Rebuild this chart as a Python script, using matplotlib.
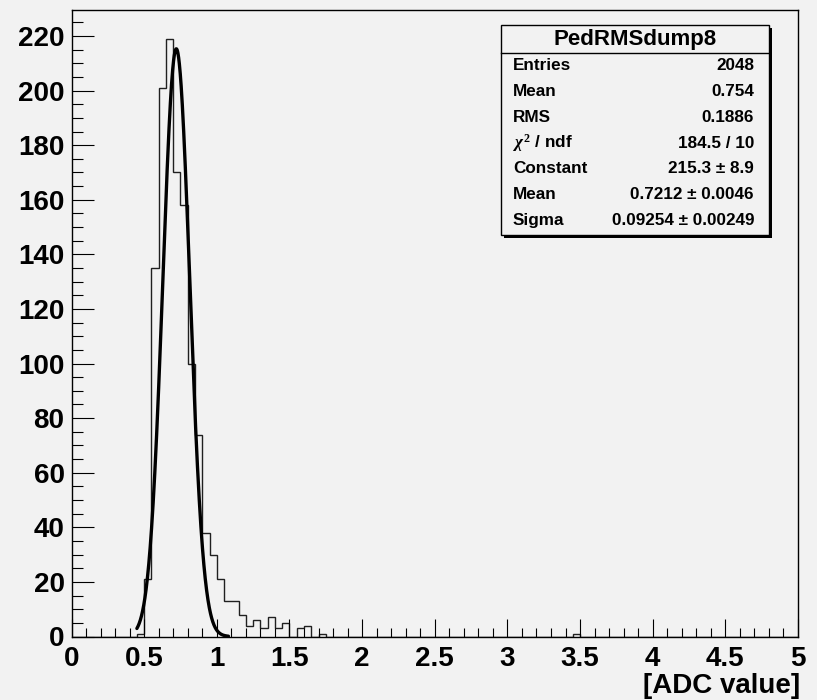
import numpy as np
import matplotlib
matplotlib.use("Agg")
import matplotlib.pyplot as plt
from matplotlib.patches import Rectangle
from matplotlib.lines import Line2D

# ---- data ----
bin_width = 0.05
x_min, x_max = 0.0, 5.0
# contiguous bins starting at 0.45
peak_start = 0.45
peak_counts = [1, 21, 135, 201, 219, 170, 158, 100, 74, 38, 30, 21, 13, 13,
               8, 4, 6, 3, 7, 3, 5, 0, 3, 4, 0, 1]
# isolated bins
extra_bins = [3.45]
extra_counts = [1]

# fit parameters (from stats box)
fit_const = 215.3
fit_mean = 0.7212
fit_sigma = 0.09254
fit_range = (0.45, 1.08)

stats_title = "PedRMSdump8"
stats_labels = ["Entries", "Mean", "RMS", r"$\chi^{2}$ / ndf", "Constant", "Mean", "Sigma"]
stats_values = ["2048", "0.754", "0.1886", "184.5 / 10", "215.3 ± 8.9",
                "0.7212 ± 0.0046", "0.09254 ± 0.00249"]

x_ticks = [0, 0.5, 1, 1.5, 2, 2.5, 3, 3.5, 4, 4.5, 5]
y_ticks = list(range(0, 221, 20))
x_label = "[ADC value]"

# ---- build histogram ----
nbins = int(round((x_max - x_min) / bin_width))
edges = np.linspace(x_min, x_max, nbins + 1)
counts = np.zeros(nbins)
i0 = int(round((peak_start - x_min) / bin_width))
counts[i0:i0 + len(peak_counts)] = peak_counts
for b, c in zip(extra_bins, extra_counts):
    counts[int(round((b - x_min) / bin_width))] = c

W, H = 817, 700
bg = "#f2f2f2"
plt.rcParams['font.family'] = ['Liberation Sans', 'DejaVu Sans']
plt.rcParams['font.weight'] = 'bold'
plt.rcParams['mathtext.fontset'] = 'custom'
plt.rcParams['mathtext.rm'] = 'Liberation Serif'
plt.rcParams['mathtext.it'] = 'Liberation Serif:italic'
plt.rcParams['mathtext.bf'] = 'Liberation Serif:bold'

fig = plt.figure(figsize=(W / 100, H / 100), dpi=100, facecolor=bg)
L, R, T, B = 71.5, 798.0, 9.5, 636.5
ax = fig.add_axes([L / W, 1 - B / H, (R - L) / W, (B - T) / H])
ax.set_facecolor(bg)

ax.stairs(counts, edges, color="#202020", lw=1.0)

xf = np.linspace(fit_range[0], fit_range[1], 400)
yf = fit_const * np.exp(-0.5 * ((xf - fit_mean) / fit_sigma) ** 2)
ax.plot(xf, yf, color="black", lw=2.4, solid_capstyle='round')

ax.set_xlim(x_min, x_max)
ax.set_ylim(0, 229.7)

ax.set_xticks(x_ticks)
ax.set_xticklabels([f"{t:g}" for t in x_ticks])
ax.set_xticks(np.arange(0, 5.0001, 0.1), minor=True)
ax.set_yticks(y_ticks)
ax.set_yticklabels([str(t) for t in y_ticks])
ax.set_yticks(np.arange(0, 229.7, 5), minor=True)

ax.tick_params(axis='x', which='major', direction='in', length=13, width=0.8,
               labelsize=20, pad=7, top=False)
ax.tick_params(axis='x', which='minor', direction='in', length=6.3, width=0.8, top=False)
ax.tick_params(axis='y', which='major', direction='in', length=16, width=0.8,
               labelsize=20, pad=5, right=False)
ax.tick_params(axis='y', which='minor', direction='in', length=8, width=0.8, right=False)
for lab in ax.get_xticklabels() + ax.get_yticklabels():
    lab.set_fontweight('bold')
for s in ax.spines.values():
    s.set_linewidth(1.0)
    s.set_color("black")

ax.set_xlabel(x_label, fontsize=20, fontweight='bold', ha='right', va='top')
ax.xaxis.set_label_coords((800 - L) / (R - L), (B - 673) / (B - T))

# ---- stats box ----
def fx(x):
    return x / W

def fy(y):
    return 1 - y / H

bl, br, bt, bb = 501, 769, 25, 235
sh = 2.5
fig.patches.append(Rectangle((fx(bl + sh), fy(bb + sh)), fx(br - bl), (bb - bt) / H,
                             transform=fig.transFigure, facecolor="black",
                             edgecolor="black", lw=0, zorder=5))
fig.patches.append(Rectangle((fx(bl), fy(bb)), fx(br - bl), (bb - bt) / H,
                             transform=fig.transFigure, facecolor=bg,
                             edgecolor="black", lw=1.0, zorder=6))
fig.lines.append(Line2D([fx(bl), fx(br)], [fy(53), fy(53)], transform=fig.transFigure,
                        color="black", lw=1.0, zorder=7))
fig.text(fx((bl + br) / 2), fy(39), stats_title, ha='center', va='center',
         fontsize=16, fontweight='bold', zorder=8)
row_y0, row_dy = 66, 25.7
for k, (lab, val) in enumerate(zip(stats_labels, stats_values)):
    y = row_y0 + k * row_dy
    fig.text(fx(513), fy(y), lab, ha='left', va='center', fontsize=12.3,
             fontweight='bold', zorder=8)
    fig.text(fx(754), fy(y), val, ha='right', va='center', fontsize=12.3,
             fontweight='bold', zorder=8)

fig.savefig("out.png", dpi=100, facecolor=bg)
